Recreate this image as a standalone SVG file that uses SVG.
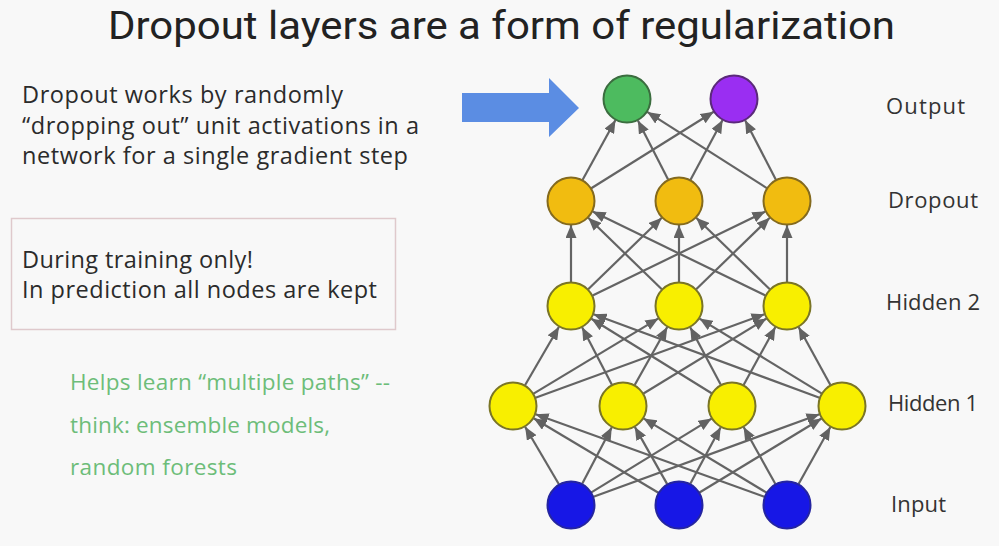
<svg xmlns="http://www.w3.org/2000/svg" width="999" height="546" viewBox="0 0 999 546">
<defs>
<marker id="ah" viewBox="0 0 13 11" refX="13" refY="5.5" markerWidth="13" markerHeight="11" markerUnits="userSpaceOnUse" orient="auto">
<path d="M0,0 L13,5.5 L0,11 z" fill="#626262"/>
</marker>
<style>
.t{font-family:"Open Sans","Liberation Sans",sans-serif;fill:#2b2b2b}
.title{font-family:Roboto,"Liberation Sans",sans-serif;font-size:39px;fill:#222}
.body{font-size:23.5px}
.green{font-family:"Open Sans","Liberation Sans",sans-serif;font-size:22.5px;fill:#6dbd79}
.lab{font-size:22px;fill:#333}
.edges line{stroke:#646464;stroke-width:2.2;marker-end:url(#ah)}
.n{stroke-width:2}
</style>
</defs>
<rect width="999" height="546" fill="#f8f8f8"/>
<text class="title" x="108" y="39" textLength="787" lengthAdjust="spacingAndGlyphs">Dropout layers are a form of regularization</text>
<g id="desc">
<text class="t body" x="22" y="103" textLength="321">Dropout works by randomly</text>
<text class="t body" x="22" y="134" textLength="397">“dropping out” unit activations in a</text>
<text class="t body" x="22" y="164" textLength="386">network for a single gradient step</text>
</g>
<g id="note">
<rect x="11.5" y="218.5" width="384" height="111" fill="none" stroke="#dfc9cc" stroke-width="1.5"/>
<text class="t body" x="22" y="268" textLength="231">During training only!</text>
<text class="t body" x="22" y="298" textLength="355">In prediction all nodes are kept</text>
</g>
<g id="helps">
<text class="green" x="70" y="390" textLength="320">Helps learn “multiple paths” --</text>
<text class="green" x="70" y="433" textLength="260">think: ensemble models,</text>
<text class="green" x="70" y="475" textLength="167">random forests</text>
</g>
<g id="bigarrow">
<path d="M462,93 L549,93 L549,78 L579,108 L549,137 L549,122 L462,122 z" fill="#5b8de3"/>
</g>
<g class="edges" id="connectors">
<line x1="582.5" y1="180" x2="615.5" y2="120"/>
<line x1="591.3" y1="188.3" x2="713.7" y2="111.7"/>
<line x1="668.1" y1="179.6" x2="637.9" y2="120.4"/>
<line x1="690.4" y1="179.9" x2="722.6" y2="120.1"/>
<line x1="766.8" y1="188.1" x2="647.2" y2="111.9"/>
<line x1="775.9" y1="179.7" x2="745.1" y2="120.3"/>
<line x1="571" y1="282" x2="571" y2="225"/>
<line x1="679" y1="282" x2="679" y2="225"/>
<line x1="787" y1="282" x2="787" y2="225"/>
<line x1="588.2" y1="289.3" x2="661.8" y2="217.7"/>
<line x1="592.6" y1="295.5" x2="765.4" y2="211.5"/>
<line x1="661.8" y1="289.3" x2="588.2" y2="217.7"/>
<line x1="696.2" y1="289.3" x2="769.8" y2="217.7"/>
<line x1="765.4" y1="295.5" x2="592.6" y2="211.5"/>
<line x1="769.8" y1="289.3" x2="696.2" y2="217.7"/>
<line x1="525" y1="385.2" x2="559" y2="326.8"/>
<line x1="533.6" y1="393.6" x2="658.4" y2="318.4"/>
<line x1="535.5" y1="397.8" x2="764.5" y2="314.2"/>
<line x1="611.9" y1="384.7" x2="582.1" y2="327.3"/>
<line x1="634.7" y1="385" x2="667.3" y2="327"/>
<line x1="643.5" y1="393.5" x2="766.5" y2="318.5"/>
<line x1="711.6" y1="393.3" x2="591.4" y2="318.7"/>
<line x1="720.8" y1="384.8" x2="690.2" y2="327.2"/>
<line x1="743.6" y1="385" x2="775.4" y2="327"/>
<line x1="819.5" y1="397.7" x2="593.5" y2="314.3"/>
<line x1="821.5" y1="393.4" x2="699.5" y2="318.6"/>
<line x1="830.4" y1="385" x2="798.6" y2="327"/>
<line x1="558.9" y1="484.3" x2="525.1" y2="426.7"/>
<line x1="582.2" y1="483.8" x2="611.8" y2="427.2"/>
<line x1="591.4" y1="492.4" x2="711.6" y2="418.6"/>
<line x1="593.5" y1="496.8" x2="819.5" y2="414.2"/>
<line x1="658.4" y1="492.7" x2="533.6" y2="418.3"/>
<line x1="667.2" y1="484.1" x2="634.8" y2="426.9"/>
<line x1="690.3" y1="483.8" x2="720.7" y2="427.2"/>
<line x1="699.5" y1="492.5" x2="821.5" y2="418.5"/>
<line x1="764.4" y1="496.8" x2="535.6" y2="414.2"/>
<line x1="766.5" y1="492.6" x2="643.5" y2="418.4"/>
<line x1="775.4" y1="484" x2="743.6" y2="427"/>
<line x1="798.6" y1="484" x2="830.4" y2="427"/>
</g>
<g id="out1"><circle class="n" cx="627" cy="99" r="23.5" fill="#4dbb5f" stroke="#3b6d3f"/></g>
<g id="out2"><circle class="n" cx="734" cy="99" r="23.5" fill="#9a2ef2" stroke="#5b2a7a"/></g>
<g id="drop1"><circle class="n" cx="571" cy="201" r="23.5" fill="#f1bc10" stroke="#846a1e"/></g>
<g id="drop2"><circle class="n" cx="679" cy="201" r="23.5" fill="#f1bc10" stroke="#846a1e"/></g>
<g id="drop3"><circle class="n" cx="787" cy="201" r="23.5" fill="#f1bc10" stroke="#846a1e"/></g>
<g id="h2a"><circle class="n" cx="571" cy="306" r="23.5" fill="#f8ef00" stroke="#7a7526"/></g>
<g id="h2b"><circle class="n" cx="679" cy="306" r="23.5" fill="#f8ef00" stroke="#7a7526"/></g>
<g id="h2c"><circle class="n" cx="787" cy="306" r="23.5" fill="#f8ef00" stroke="#7a7526"/></g>
<g id="h1a"><circle class="n" cx="513" cy="406" r="23.5" fill="#f8ef00" stroke="#7a7526"/></g>
<g id="h1b"><circle class="n" cx="623" cy="406" r="23.5" fill="#f8ef00" stroke="#7a7526"/></g>
<g id="h1c"><circle class="n" cx="732" cy="406" r="23.5" fill="#f8ef00" stroke="#7a7526"/></g>
<g id="h1d"><circle class="n" cx="842" cy="406" r="23.5" fill="#f8ef00" stroke="#7a7526"/></g>
<g id="in1"><circle class="n" cx="571" cy="505" r="23.5" fill="#1717e6" stroke="#2525a0"/></g>
<g id="in2"><circle class="n" cx="679" cy="505" r="23.5" fill="#1717e6" stroke="#2525a0"/></g>
<g id="in3"><circle class="n" cx="787" cy="505" r="23.5" fill="#1717e6" stroke="#2525a0"/></g>
<g id="labels">
<text class="t lab" x="886" y="114" textLength="79">Output</text>
<text class="t lab" x="888" y="208" textLength="90">Dropout</text>
<text class="t lab" x="886" y="310" textLength="94">Hidden 2</text>
<text class="t lab" x="888" y="411" textLength="90">Hidden 1</text>
<text class="t lab" x="891" y="512" textLength="55">Input</text>
</g>
</svg>
